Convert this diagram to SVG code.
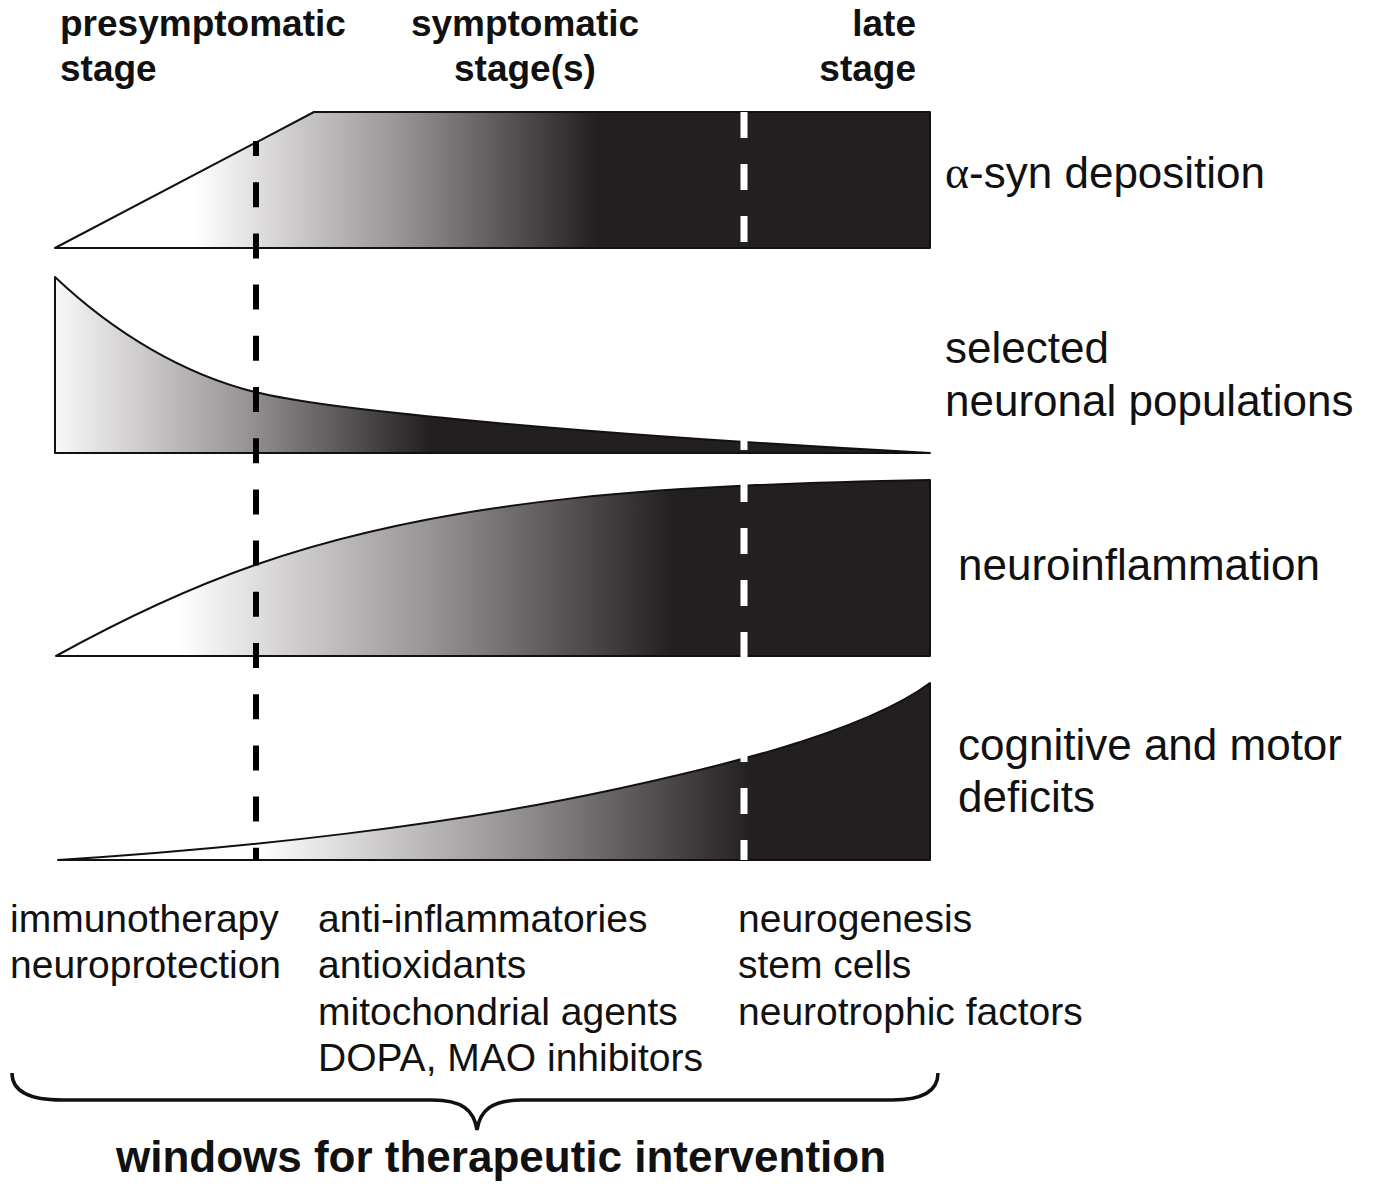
<svg xmlns="http://www.w3.org/2000/svg" width="1373" height="1184" viewBox="0 0 1373 1184">
<style>
.hdr{font-family:"Liberation Sans",Arial,sans-serif;font-weight:bold;font-size:37px;fill:#111}
.lbl{font-family:"Liberation Sans",Arial,sans-serif;font-size:44px;fill:#111}
.lst{font-family:"Liberation Sans",Arial,sans-serif;font-size:39px;fill:#111}
.ttl{font-family:"Liberation Sans",Arial,sans-serif;font-weight:bold;font-size:44px;fill:#111}
.panel{stroke:#111;stroke-width:2;stroke-linejoin:round}
</style>
<defs>
<linearGradient id="g1" gradientUnits="userSpaceOnUse" x1="195" y1="0" x2="598" y2="0">
<stop offset="0" stop-color="#ffffff"/><stop offset="0.5" stop-color="#9a9596"/><stop offset="1" stop-color="#231f20"/>
</linearGradient>
<linearGradient id="g2" gradientUnits="userSpaceOnUse" x1="55" y1="0" x2="430" y2="0">
<stop offset="0" stop-color="#f8f8f8"/><stop offset="0.5" stop-color="#9a9596"/><stop offset="1" stop-color="#231f20"/>
</linearGradient>
<linearGradient id="g3" gradientUnits="userSpaceOnUse" x1="178" y1="0" x2="674" y2="0">
<stop offset="0" stop-color="#ffffff"/><stop offset="0.5" stop-color="#9a9596"/><stop offset="1" stop-color="#231f20"/>
</linearGradient>
<linearGradient id="g4" gradientUnits="userSpaceOnUse" x1="257" y1="0" x2="753" y2="0">
<stop offset="0" stop-color="#ffffff"/><stop offset="0.5" stop-color="#9a9596"/><stop offset="1" stop-color="#231f20"/>
</linearGradient>
</defs>

<g id="headers">
<text class="hdr" x="60" y="36">presymptomatic</text>
<text class="hdr" x="60" y="81">stage</text>
<text class="hdr" x="525" y="36" text-anchor="middle">symptomatic</text>
<text class="hdr" x="525" y="81" text-anchor="middle">stage(s)</text>
<text class="hdr" x="916" y="36" text-anchor="end">late</text>
<text class="hdr" x="916" y="81" text-anchor="end">stage</text>
</g>

<g id="asyn">
<path class="panel" fill="url(#g1)" d="M55,248 L314,112 L930,112 L930,248 Z"/>
<text class="lbl" x="945" y="188"><tspan font-family="'Liberation Serif',serif" font-size="46">α</tspan>-syn deposition</text>
</g>

<g id="neuronal">
<path class="panel" fill="url(#g2)" d="M55,277 C115,334 185,374.5 255,392 C315,407 530,431.4 930,453 L55,453 Z"/>
<text class="lbl" x="945" y="363">selected</text>
<text class="lbl" x="945" y="416">neuronal populations</text>
</g>

<g id="neuroinflammation">
<path class="panel" fill="url(#g3)" d="M56,656 C123,619 189,588 255,565 C455,495 680,485 930,480 L930,656 Z"/>
<text class="lbl" x="958" y="580">neuroinflammation</text>
</g>

<g id="deficits">
<path class="panel" fill="url(#g4)" d="M58,860 C250,848 450,825 612,790 C700,771 860,735 930,683 L930,860 Z"/>
<text class="lbl" x="958" y="760">cognitive and motor</text>
<text class="lbl" x="958" y="812">deficits</text>
</g>

<g id="connectors">
<line x1="256" y1="141" x2="256" y2="860" stroke="#000" stroke-width="6" stroke-dasharray="25 26.2" stroke-dashoffset="10"/>
<line x1="744" y1="112" x2="744" y2="860" stroke="#fff" stroke-width="7" stroke-dasharray="26 26"/>
<path d="M12,1073 C12,1092 30,1100 62,1100 L432,1100 C462,1100 474,1110 477,1130 C480,1110 492,1100 522,1100 L892,1100 C922,1100 938,1092 938,1073" fill="none" stroke="#111" stroke-width="3.5"/>
</g>

<g id="therapies">
<text class="lst" x="10" y="932">immunotherapy</text>
<text class="lst" x="10" y="978">neuroprotection</text>
<text class="lst" x="318" y="932">anti-inflammatories</text>
<text class="lst" x="318" y="978">antioxidants</text>
<text class="lst" x="318" y="1025">mitochondrial agents</text>
<text class="lst" x="318" y="1071">DOPA, MAO inhibitors</text>
<text class="lst" x="738" y="932">neurogenesis</text>
<text class="lst" x="738" y="978">stem cells</text>
<text class="lst" x="738" y="1025">neurotrophic factors</text>
</g>

<g id="title">
<text class="ttl" x="501" y="1172" text-anchor="middle">windows for therapeutic intervention</text>
</g>
</svg>
